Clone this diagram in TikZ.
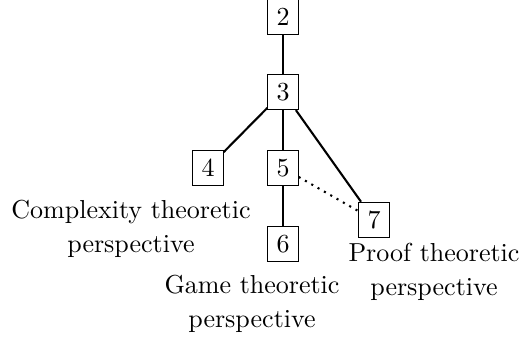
\documentclass[tikz,border=0pt]{standalone}
\usepackage{tikz}
\tikzset{
	num/.style={draw, minimum size=0pt, inner sep=3.33pt},
	persp/.style={align=center, inner sep=0pt},
	link/.style={thick}
}

\begin{document}
\begin{tikzpicture}[x=0.01352cm, y=-0.01352cm]
				\useasboundingbox (0,0) rectangle (522,339);
				
				\node[num] (n2) at (283,17) {2};
				\node[num] (n3) at (283,92) {3};
				\node[num] (n4) at (208,168) {4};
				\node[num] (n5) at (283,168) {5};
				\node[num] (n6) at (283,244) {6};
				\node[num] (n7) at (374,220) {7};
				
				\node[persp] (t4) at (131,229) {Complexity theoretic\\[1pt]perspective};
				\node[persp] (t6) at (252,304) {Game theoretic\\[1pt]perspective};
				\node[persp] (t7) at (434,272) {Proof theoretic\\[1pt]perspective};
				
				\draw[link] (n2) -- (n3);
				\draw[link] (n3) -- (n4);
				\draw[link] (n3) -- (n5);
				\draw[link] (n3) -- (n7);
				\draw[link] (n5) -- (n6);
				\draw[dotted, thick] (n5) -- (n7);
\end{tikzpicture}
\end{document}
